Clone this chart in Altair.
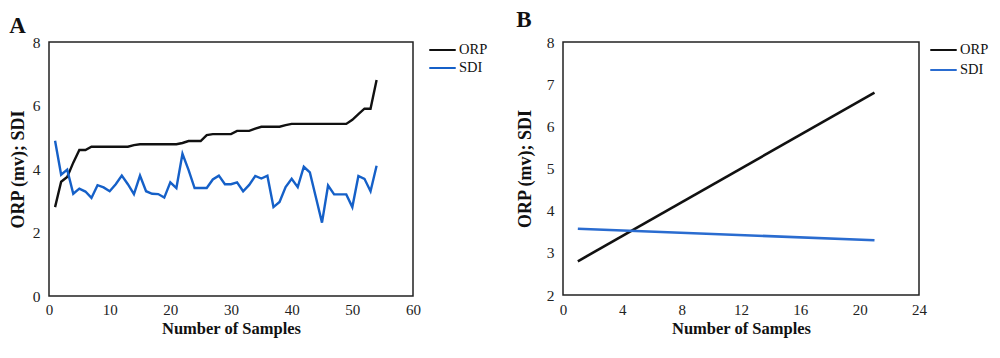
import altair as alt
import pandas as pd

# Panel A data
samples_a = list(range(1, 55))
orp_a = [2.8, 3.6, 3.75, 4.2, 4.6, 4.6, 4.7, 4.7, 4.7, 4.7,
         4.7, 4.7, 4.7, 4.75, 4.78, 4.78, 4.78, 4.78, 4.78, 4.78,
         4.78, 4.82, 4.88, 4.88, 4.88, 5.07, 5.1, 5.1, 5.1, 5.1,
         5.2, 5.2, 5.2, 5.27, 5.33, 5.33, 5.33, 5.33, 5.38, 5.42,
         5.42, 5.42, 5.42, 5.42, 5.42, 5.42, 5.42, 5.42, 5.42, 5.55,
         5.73, 5.9, 5.9, 6.8]
sdi_a = [4.89, 3.82, 3.98, 3.22, 3.38, 3.29, 3.09, 3.49, 3.42, 3.30,
         3.52, 3.79, 3.52, 3.21, 3.79, 3.30, 3.22, 3.21, 3.10, 3.58,
         3.40, 4.48, 3.97, 3.40, 3.40, 3.40, 3.67, 3.79, 3.52, 3.52,
         3.58, 3.30, 3.50, 3.78, 3.70, 3.79, 2.80, 2.96, 3.43, 3.69,
         3.43, 4.07, 3.89, 3.10, 2.31, 3.48, 3.20, 3.20, 3.20, 2.80,
         3.78, 3.69, 3.30, 4.10]

# Panel B data (trend lines)
samples_b = [1, 21]
orp_b = [2.8, 6.8]
sdi_b = [3.57, 3.3]

series = ["ORP", "SDI"]

df_a = pd.DataFrame({
    "Sample": samples_a * 2,
    "Value": orp_a + sdi_a,
    "Series": ["ORP"] * len(samples_a) + ["SDI"] * len(samples_a),
})
df_b = pd.DataFrame({
    "Sample": samples_b * 2,
    "Value": orp_b + sdi_b,
    "Series": ["ORP"] * len(samples_b) + ["SDI"] * len(samples_b),
})

FONT = "Liberation Serif"
YTITLE = "ORP (mv); SDI"
XTITLE = "Number of Samples"


def xaxis(values, label_pad):
    return alt.Axis(values=values, title=XTITLE, grid=False, ticks=False, domain=False,
                    labelFlush=False, labelPadding=label_pad, titlePadding=3, labelFont=FONT,
                    labelFontSize=15, labelColor="#222", titleFont=FONT, titleFontSize=16.5,
                    titleFontWeight="bold", titleColor="#111")


def yaxis(values, title_pad):
    return alt.Axis(values=values, title=YTITLE, grid=False, ticks=False, domain=False,
                    labelFlush=False, labelPadding=9, titlePadding=title_pad, labelFont=FONT,
                    labelFontSize=15.5, labelColor="#222", titleFont=FONT, titleFontSize=18,
                    titleFontWeight="bold", titleColor="#111")


def legend(offset, row_pad):
    return alt.Legend(title=None, orient="right", offset=offset, symbolType="stroke",
                      symbolSize=700, symbolStrokeWidth=2.2, labelFont=FONT, labelFontSize=14.5,
                      labelColor="#111", rowPadding=row_pad, labelOffset=2, clipHeight=16)


panel_a = alt.Chart(df_a).mark_line(strokeWidth=2.4).encode(
    x=alt.X("Sample:Q", scale=alt.Scale(domain=[0, 60], nice=False),
            axis=xaxis([0, 10, 20, 30, 40, 50, 60], 6)),
    y=alt.Y("Value:Q", scale=alt.Scale(domain=[0, 8], nice=False),
            axis=yaxis([0, 2, 4, 6, 8], 5)),
    color=alt.Color("Series:N", scale=alt.Scale(domain=series, range=["#111111", "#1560c8"]),
                    legend=legend(15, 2)),
).properties(
    width=364, height=254,
    title=alt.Title("A", anchor="start", frame="bounds", font=FONT, fontSize=23,
                    fontWeight="bold", color="#111", offset=3, dy=6),
)

panel_b = alt.Chart(df_b).mark_line(strokeWidth=2.6).encode(
    x=alt.X("Sample:Q", scale=alt.Scale(domain=[0, 24], nice=False),
            axis=xaxis([0, 4, 8, 12, 16, 20, 24], 7)),
    y=alt.Y("Value:Q", scale=alt.Scale(domain=[2, 8], nice=False),
            axis=yaxis([2, 3, 4, 5, 6, 7, 8], 12)),
    color=alt.Color("Series:N", scale=alt.Scale(domain=series, range=["#111111", "#2a6cd0"]),
                    legend=legend(10, 4)),
).properties(
    width=356, height=253,
    title=alt.Title("B", anchor="start", frame="bounds", font=FONT, fontSize=23,
                    fontWeight="bold", color="#111", offset=3),
)

chart = alt.hconcat(panel_a, panel_b, spacing=26).resolve_scale(
    color="independent"
).resolve_legend(color="independent").configure_view(
    stroke="#222", strokeWidth=1.5
).properties(padding=0, background="white")

chart.save("out.html", embed_options={"renderer": "svg", "actions": False})
